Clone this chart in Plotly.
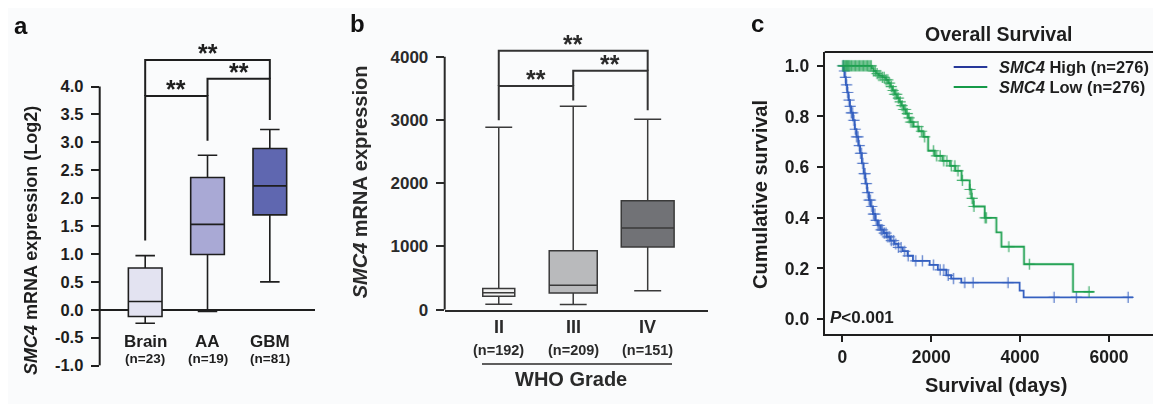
import numpy as np
import plotly.graph_objects as go

# ---------------- data ----------------
# Panel a
a_categories = ["Brain", "AA", "GBM"]
a_counts = ["(n=23)", "(n=19)", "(n=81)"]
a_lower = [-0.24, -0.03, 0.50]
a_q1 = [-0.12, 0.99, 1.70]
a_median = [0.15, 1.53, 2.22]
a_q3 = [0.75, 2.37, 2.89]
a_upper = [0.97, 2.77, 3.23]
a_yticks = [-1.0, -0.5, 0.0, 0.5, 1.0, 1.5, 2.0, 2.5, 3.0, 3.5, 4.0]
# brackets: (left idx, right idx, bar height, left leg bottom, right leg bottom)
a_brackets = [(0, 1, 3.83, 1.24, 3.03), (1, 2, 4.14, 3.83, 3.40), (0, 2, 4.475, 3.83, 4.14)]
a_sig = ["**", "**", "**"]

# Panel b
b_categories = ["II", "III", "IV"]
b_counts = ["(n=192)", "(n=209)", "(n=151)"]
b_lower = [87, 82, 298]
b_q1 = [211, 262, 992]
b_median = [267, 386, 1290]
b_q3 = [334, 931, 1722]
b_upper = [2884, 3218, 3013]
b_yticks = [0, 1000, 2000, 3000, 4000]
b_brackets = [(0, 1, 3537, 2997, 3306), (1, 2, 3779, 3537, 3152), (0, 2, 4093, 3537, 3779)]
b_sig = ["**", "**", "**"]
b_group_label = "WHO Grade"

# Panel c (Kaplan-Meier steps)
high_time = [0, 25, 50, 80, 110, 140, 170, 200, 240, 280, 320, 360, 400, 440, 480, 520, 560,
             600, 640, 690, 740, 800, 860, 930, 1000, 1080, 1170, 1260, 1360, 1470, 1590, 1966,
             2150, 2340, 2450, 2678, 3990, 4080]
high_surv = [1.0, 0.98, 0.955, 0.925, 0.895, 0.865, 0.84, 0.815, 0.785, 0.75, 0.72, 0.685, 0.655,
             0.615, 0.575, 0.535, 0.5, 0.47, 0.445, 0.415, 0.39, 0.37, 0.353, 0.34, 0.325, 0.31,
             0.297, 0.283, 0.268, 0.25, 0.23, 0.214, 0.195, 0.173, 0.16, 0.144, 0.112, 0.086]
high_end = 6540
high_censor = [20, 45, 70, 95, 120, 150, 175, 200, 230, 260, 290, 320, 350, 380, 410, 430, 460,
               490, 510, 540, 570, 600, 630, 660, 700, 730, 760, 800, 830, 870, 900, 940, 980,
               1020, 1060, 1100, 1150, 1200, 1260, 1320, 1400, 1480, 1650, 1800, 2050, 2200,
               2280, 2380, 2500, 2753, 2941, 3728, 4764, 5265, 6430]

low_time = [0, 660, 700, 760, 820, 900, 980, 1030, 1080, 1130, 1180, 1230, 1280, 1330, 1380,
            1430, 1480, 1530, 1600, 1720, 1820, 1930, 2080, 2250, 2420, 2540, 2680, 2866, 2900,
            2950, 3203, 3465, 3578, 4088, 5190]
low_surv = [1.0, 0.99, 0.98, 0.97, 0.962, 0.955, 0.945, 0.932, 0.918, 0.903, 0.888, 0.873, 0.858,
            0.843, 0.828, 0.812, 0.795, 0.778, 0.76, 0.742, 0.72, 0.665, 0.645, 0.625, 0.605,
            0.586, 0.548, 0.512, 0.477, 0.445, 0.40, 0.343, 0.286, 0.217, 0.108]
low_end = 5663
low_censor = [10, 30, 50, 70, 90, 110, 130, 150, 170, 200, 230, 260, 290, 320, 350, 380, 410,
              440, 470, 500, 530, 560, 590, 620, 650, 700, 740, 780, 820, 860, 900, 940, 980,
              1020, 1060, 1100, 1140, 1180, 1220, 1260, 1300, 1340, 1380, 1420, 1460, 1500,
              1540, 1580, 1700, 1780, 1850, 2050, 2120, 2200, 2280, 2350, 2450, 2530, 2600,
              2700, 2870, 2920, 2960, 3210, 3240, 3745, 4208, 5550]
c_xticks = [0, 2000, 4000, 6000]
c_yticks = [0.0, 0.2, 0.4, 0.6, 0.8, 1.0]
legend_names = ["<i>SMC4</i> High (n=276)", "<i>SMC4</i> Low (n=276)"]
p_text = "<i>P</i><0.001"

# ---------------- style ----------------
W, H = 1161, 404
FONT = "Liberation Sans, Arial, Helvetica, sans-serif"
BG = "#fafbfc"
INK = "#1e1e1e"
INK_B = "#2a2a2a"
a_colors = ["#e3e3f1", "#a9a9d5", "#5f67b0"]
b_colors = ["#f1f1f1", "#b9babc", "#717276"]
b_widths = [0.43, 0.645, 0.71]
b_whisk = [0.84, 0.56, 0.51]
high_color = "#3560c0"
low_color = "#1ea050"
high_leg_color = "#27389a"
low_leg_color = "#159a48"


def px(x):
    return x / W


def py(y):
    return (H - y) / H


def bold(size, color=INK):
    return dict(size=size, family=FONT, color=color, weight="bold")


def note(text, x, y, size, xref="paper", yref="paper", color=INK, angle=0, xanchor="center",
         yanchor="middle", yshift=0):
    fig.add_annotation(x=x, y=y, xref=xref, yref=yref, text=text, showarrow=False,
                       xanchor=xanchor, yanchor=yanchor, textangle=angle, yshift=yshift,
                       font=bold(size, color), borderpad=0)


fig = go.Figure()

# ---- panel a boxes ----
for i in range(len(a_categories)):
    fig.add_trace(go.Box(
        x=[i], q1=[a_q1[i]], median=[a_median[i]], q3=[a_q3[i]],
        lowerfence=[a_lower[i]], upperfence=[a_upper[i]],
        fillcolor=a_colors[i], line=dict(color=INK, width=1.6),
        width=0.54, whiskerwidth=0.58, boxpoints=False,
        xaxis="x", yaxis="y", showlegend=False, hoverinfo="skip"))

for (i, j, bar, li, lj), s in zip(a_brackets, a_sig):
    fig.add_trace(go.Scatter(x=[i, i, j, j], y=[li, bar, bar, lj], mode="lines",
                             line=dict(color=INK, width=2), xaxis="x", yaxis="y",
                             showlegend=False, hoverinfo="skip"))
    note(s, (i + j) / 2, bar, 25, xref="x", yref="y", yanchor="bottom", yshift=-8)

for i, (c, n) in enumerate(zip(a_categories, a_counts)):
    note(c, i, py(341.5), 17, xref="x")
    note(n, i, py(359.5), 13.5, xref="x")

# ---- panel b boxes ----
for i in range(len(b_categories)):
    fig.add_trace(go.Box(
        x=[i], q1=[b_q1[i]], median=[b_median[i]], q3=[b_q3[i]],
        lowerfence=[b_lower[i]], upperfence=[b_upper[i]],
        fillcolor=b_colors[i], line=dict(color="#3a3a3a", width=1.5),
        width=b_widths[i], whiskerwidth=b_whisk[i], boxpoints=False,
        xaxis="x2", yaxis="y2", showlegend=False, hoverinfo="skip"))

for (i, j, bar, li, lj), s in zip(b_brackets, b_sig):
    fig.add_trace(go.Scatter(x=[i, i, j, j], y=[li, bar, bar, lj], mode="lines",
                             line=dict(color="#333333", width=2), xaxis="x2", yaxis="y2",
                             showlegend=False, hoverinfo="skip"))
    note(s, (i + j) / 2, bar, 25, xref="x2", yref="y2", color=INK_B, yanchor="bottom", yshift=-8)

for i, (c, n) in enumerate(zip(b_categories, b_counts)):
    note(c, i, py(327), 18, xref="x2", color=INK_B)
    note(n, i, py(350.5), 14.5, xref="x2", color=INK_B)
fig.add_shape(type="line", xref="paper", yref="paper", x0=px(474), x1=px(664), y0=py(365), y1=py(365),
              line=dict(color=INK_B, width=1.6))
note(b_group_label, px(562.7), py(380), 20, color=INK_B)

# ---- panel c KM ----
def km_xy(times, surv, end):
    return list(times) + [end], list(surv) + [surv[-1]]


def censor_y(times, surv, cens):
    idx = np.searchsorted(np.array(times), np.array(cens), side="right") - 1
    return [surv[k] for k in idx]


for times, surv, end, cens, col in [(high_time, high_surv, high_end, high_censor, high_color),
                                    (low_time, low_surv, low_end, low_censor, low_color)]:
    xs, ys = km_xy(times, surv, end)
    fig.add_trace(go.Scatter(x=xs, y=ys, mode="lines", line=dict(color=col, width=1.8, shape="hv"),
                             xaxis="x3", yaxis="y3", showlegend=False, hoverinfo="skip"))
    fig.add_trace(go.Scatter(x=cens, y=censor_y(times, surv, cens), mode="markers",
                             marker=dict(symbol="cross-thin", size=8, color=col, line=dict(width=1.2, color=col)),
                             opacity=0.85, xaxis="x3", yaxis="y3", showlegend=False, hoverinfo="skip"))

# custom legend
for k, (name, col) in enumerate(zip(legend_names, [high_leg_color, low_leg_color])):
    yy = [60.5, 81][k]
    fig.add_shape(type="line", xref="paper", yref="paper", x0=px(945.7), x1=px(979.3), y0=py(yy), y1=py(yy),
                  line=dict(color=col, width=2.2))
    note(name, px(990), py(yy), 16.5, xanchor="left")

note(p_text, px(821), py(317), 17, xanchor="left")

# titles
note("Overall Survival", px(990), py(27), 19.5)
note("Survival (days)", px(988), py(387), 20)
note("Cumulative survival", px(752), py(191.7), 20, angle=-90)
note("<i>SMC4</i> mRNA expression (Log2)", px(23), py(239), 18, angle=-90)
note("<i>SMC4</i> mRNA expression", px(351.7), py(178), 20, angle=-90, color=INK_B)

for lab, (x, y) in zip(["a", "b", "c"], [(13, 18), (349, 16), (749, 16)]):
    note(lab, px(x), py(y), 24, color="#111111")

# axis lines as shapes
fig.add_shape(type="line", xref="x domain", yref="y", x0=0, x1=0, y0=-1.0, y1=4.0,
              line=dict(color=INK, width=2))
fig.add_shape(type="line", xref="x2 domain", yref="y2", x0=0, x1=0, y0=0, y1=4000,
              line=dict(color=INK_B, width=2))
fig.add_shape(type="line", xref="x3 domain", yref="y3 domain", x0=0, x1=1, y0=1, y1=1,
              line=dict(color=INK, width=2))

fig.update_layout(
    width=W, height=H, margin=dict(l=0, r=0, t=0, b=0),
    paper_bgcolor=BG, plot_bgcolor=BG, font=dict(family=FONT, color=INK),
    xaxis=dict(domain=[px(91.7), px(306.7)], range=[-0.73, 2.72], showgrid=False, zeroline=False,
               showline=False, showticklabels=False, ticks=""),
    yaxis=dict(domain=[py(366.7), py(46.2)], range=[-1.0, 4.6], showgrid=False, zeroline=True,
               zerolinecolor=INK, zerolinewidth=2, showline=False, ticks="outside", ticklen=8,
               tickwidth=2, tickcolor=INK, tickvals=a_yticks, ticktext=[f"{v:.1f}" for v in a_yticks],
               tickfont=bold(16.5), ticklabelstandoff=4),
    xaxis2=dict(domain=[px(436.7), px(700)], range=[-0.726, 2.81], showgrid=False, zeroline=False,
                showline=True, linecolor=INK_B, linewidth=2, showticklabels=False, ticks="", anchor="y2"),
    yaxis2=dict(domain=[py(309.3), py(37.0)], range=[0, 4200], showgrid=False, zeroline=False,
                showline=False, ticks="outside", ticklen=8, tickwidth=2, tickcolor=INK_B,
                tickvals=b_yticks, ticktext=[str(v) for v in b_yticks],
                tickfont=bold(17, INK_B), anchor="x2", ticklabelstandoff=4),
    xaxis3=dict(domain=[px(816.7), 1.0], range=[-396, 7351], showgrid=False, zeroline=False,
                showline=True, linecolor=INK, linewidth=2, ticks="outside", ticklen=6, tickwidth=2,
                tickcolor=INK, tickvals=c_xticks, ticktext=[str(v) for v in c_xticks],
                tickfont=bold(17.5), anchor="y3"),
    yaxis3=dict(domain=[py(334.3), py(45)], range=[-0.059, 1.055], showgrid=False, zeroline=False,
                showline=True, linecolor=INK, linewidth=2, ticks="outside", ticklen=6, tickwidth=2,
                tickcolor=INK, tickvals=c_yticks, ticktext=[f"{v:.1f}" for v in c_yticks],
                tickfont=bold(17.5), anchor="x3", ticklabelstandoff=4),
)

fig.write_html("out.html")
